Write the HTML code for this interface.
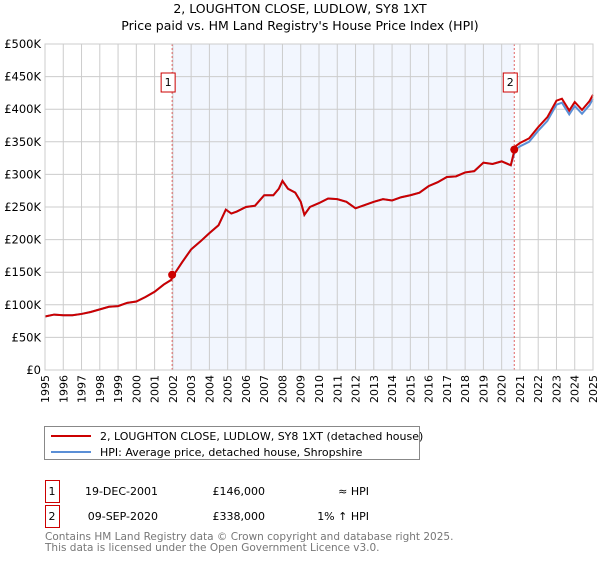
<!DOCTYPE html>
<html><head><meta charset="utf-8"><style>
body{margin:0;background:#fff;font-family:"DejaVu Sans","Liberation Sans",sans-serif;}
svg text{font-family:"DejaVu Sans","Liberation Sans",sans-serif;}
</style></head><body>
<svg width="600" height="560" xmlns="http://www.w3.org/2000/svg">
<text x="300" y="13" text-anchor="middle" font-size="12.5">2, LOUGHTON CLOSE, LUDLOW, SY8 1XT</text>
<text x="300" y="30" text-anchor="middle" font-size="12.5">Price paid vs. HM Land Registry's House Price Index (HPI)</text>
<g id="plot"></g>
<rect x="44.5" y="426.5" width="375" height="33" fill="#fff" stroke="#888"/>
<line x1="51" y1="436" x2="91" y2="436" stroke="#cc0000" stroke-width="2"/>
<text x="100" y="440" font-size="11">2, LOUGHTON CLOSE, LUDLOW, SY8 1XT (detached house)</text>
<line x1="51" y1="452" x2="91" y2="452" stroke="#5b8fd6" stroke-width="2"/>
<text x="100" y="456" font-size="11">HPI: Average price, detached house, Shropshire</text>
<g id="table" font-size="11"></g>
<text x="45" y="540" font-size="10.5" fill="#777">Contains HM Land Registry data © Crown copyright and database right 2025.</text>
<text x="45" y="551" font-size="10.5" fill="#777">This data is licensed under the Open Government Licence v3.0.</text>
</svg>
<script>
const hpiYears=[1995,1995.5,1996,1996.5,1997,1997.5,1998,1998.5,1999,1999.5,2000,2000.5,2001,2001.5,2001.9,2002.1,2002.5,2003,2003.5,2004,2004.5,2004.9,2005.2,2005.5,2006,2006.5,2007,2007.5,2007.8,2008,2008.3,2008.7,2009,2009.2,2009.5,2010,2010.5,2011,2011.5,2012,2012.5,2013,2013.5,2014,2014.5,2015,2015.5,2016,2016.5,2017,2017.5,2018,2018.5,2019,2019.5,2020,2020.5,2020.75,2021,2021.5,2022,2022.5,2023,2023.3,2023.7,2024,2024.4,2024.8,2025];
const hpiValues=[82,85,84,84,86,89,93,97,98,103,105,112,120,131,138,148,165,185,197,210,222,246,240,243,250,252,268,268,278,290,278,272,258,238,250,256,263,262,258,248,253,258,262,260,265,268,272,282,288,296,297,303,305,318,316,320,314,338,343,350,367,382,407,410,392,405,393,406,416];
const yTicks=[0,50,100,150,200,250,300,350,400,450,500];
const yTickLabels=["£0","£50K","£100K","£150K","£200K","£250K","£300K","£350K","£400K","£450K","£500K"];
const saleYears=[2001.96,2020.69];
const salePrices=[146,338];
const saleLabels=["1","2"];
const saleDates=["19-DEC-2001","09-SEP-2020"];
const salePriceText=["£146,000","£338,000"];
const saleHpiText=["≈ HPI","1% ↑ HPI"];
const X0=45,X1=593,Y0=370,Y1=44;
const xs=y=>X0+(y-1995)*(X1-X0)/30;
const ys=v=>Y0-v*(Y0-Y1)/500;
const NS="http://www.w3.org/2000/svg";
const g=document.getElementById('plot');
function mk(t,a,p){const e=document.createElementNS(NS,t);for(const k in a)e.setAttribute(k,a[k]);(p||g).appendChild(e);return e;}
const sh=mk('rect',{x:xs(saleYears[0]),y:Y1,width:xs(saleYears[1])-xs(saleYears[0]),height:Y0-Y1,fill:'#f2f6fe'});


for(let yr=1995;yr<=2025;yr++){
 const l=mk('line',{x1:xs(yr),x2:xs(yr),y1:Y1,y2:Y0,stroke:'#cccccc'});
 
 
 const gg=mk('g',{transform:'translate('+(xs(yr)+4)+','+(Y0+5)+') rotate(-90)'});
 const t=mk('text',{x:0,y:0,'font-size':11,'text-anchor':'end'},gg);
 t.textContent=yr;
 
 
}
yTicks.forEach((v,i)=>{
 const l=mk('line',{x1:X0,x2:X1,y1:ys(v),y2:ys(v),stroke:'#cccccc'});
 
 
 const t=mk('text',{x:X0-4,y:ys(v)+4,'font-size':11.5,'text-anchor':'end'});
 t.textContent=yTickLabels[i];
 
 
});
saleYears.forEach((s,i)=>{
 const l=mk('line',{x1:xs(s),x2:xs(s),y1:Y1,y2:Y0,stroke:'#e06666','stroke-dasharray':'2,2'});
 
 
 const r=mk('rect',{x:xs(s)-11,y:73,width:14,height:19,fill:'#fff',stroke:'#cc0000'});
 
 
 const t=mk('text',{x:xs(s)-4,y:86,'font-size':11,'text-anchor':'middle'});
 t.textContent=saleLabels[i];
});
const hp=hpiYears.map((y,i)=>xs(y)+','+ys(hpiValues[i])).join(' ');
const bl=mk('polyline',{points:hp,fill:'none',stroke:'#5b8fd6','stroke-width':2});


const rp=hpiYears.map((y,i)=>xs(y)+','+ys(hpiValues[i]*(y>saleYears[1]?1.015:1))).join(' ');
const rl=mk('polyline',{points:rp,fill:'none',stroke:'#cc0000','stroke-width':2});


saleYears.forEach((s,i)=>{
 const c=mk('circle',{cx:xs(s),cy:ys(salePrices[i]),r:4,fill:'#cc0000'});
 
 
});
mk('rect',{x:X0,y:Y1,width:X1-X0,height:Y0-Y1,fill:'none',stroke:'#cccccc'});
const tb=document.getElementById('table');
saleYears.forEach((s,i)=>{
 const cy=[491,516][i];
 const r=mk('rect',{x:45.5,y:cy-10.5,width:14,height:22,fill:'#fff',stroke:'#cc0000'},tb);
 
 
 const vals=[[52,saleLabels[i],'middle'],[158,saleDates[i],'end'],[265,salePriceText[i],'end'],[369,saleHpiText[i],'end']];
 vals.forEach(v=>{const t=mk('text',{x:v[0],y:cy+4,'text-anchor':v[2]},tb);t.textContent=v[1];
  
  });
});
</script>
</body></html>
